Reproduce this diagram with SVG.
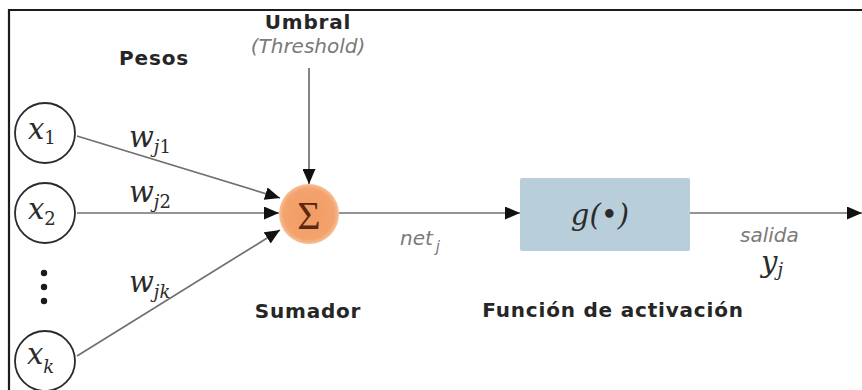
<svg xmlns="http://www.w3.org/2000/svg" width="862" height="390" viewBox="0 0 862 390">
  <style>
    .frame { fill: none; stroke: #1c1c1c; stroke-width: 2.2; }
    .input { fill: #ffffff; stroke: #2a2a2a; stroke-width: 1.8; }
    .wire { fill: none; stroke: #707070; stroke-width: 1.7; }
    .label { font-family: "DejaVu Sans", Verdana, sans-serif; font-weight: bold; font-size: 20px; fill: #262626; letter-spacing: 0.8px; }
    .note { font-family: "DejaVu Sans", Verdana, sans-serif; font-style: italic; font-size: 20px; fill: #7a7a7a; }
    .math { font-family: "DejaVu Serif", "Liberation Serif", serif; font-style: italic; font-size: 29px; fill: #2b2b2b; }
    .sub { font-size: 18px; }
    .up { font-style: normal; }
  </style>
  <defs>
    <marker id="arrow" markerUnits="userSpaceOnUse" markerWidth="15" markerHeight="13" refX="15" refY="6.5" orient="auto">
      <path d="M0,0 L15,6.5 L0,13 Z" fill="#111111"/>
    </marker>
    <radialGradient id="sumFill" cx="50%" cy="50%" r="50%">
      <stop offset="0%" stop-color="#f29a62"/>
      <stop offset="85%" stop-color="#f4a36e"/>
      <stop offset="100%" stop-color="#f7c09a"/>
    </radialGradient>
  </defs>

  <rect width="862" height="390" fill="#ffffff"/>
  <!-- frame: top and left edges -->
  <path class="frame" d="M9,390 L9,10 L862,10"/>

  <!-- headings -->
  <text class="label" x="154" y="65" text-anchor="middle">Pesos</text>
  <text class="label" x="308" y="29" text-anchor="middle">Umbral</text>
  <text class="note" x="308" y="53" text-anchor="middle">(Threshold)</text>
  <text class="label" x="308" y="318" text-anchor="middle">Sumador</text>
  <text class="label" x="613" y="317" text-anchor="middle">Función de activación</text>

  <!-- connectors -->
  <g id="connectors">
    <line class="wire" x1="77" y1="136" x2="280" y2="198" marker-end="url(#arrow)"/>
    <line class="wire" x1="77" y1="213" x2="279" y2="213" marker-end="url(#arrow)"/>
    <line class="wire" x1="77" y1="356" x2="280" y2="230" marker-end="url(#arrow)"/>
    <line class="wire" x1="309" y1="68" x2="309" y2="184" marker-end="url(#arrow)"/>
    <line class="wire" x1="339" y1="213" x2="520" y2="213" marker-end="url(#arrow)"/>
    <line class="wire" x1="690" y1="213" x2="862" y2="213" marker-end="url(#arrow)"/>
  </g>

  <!-- weight labels -->
  <text class="math" x="129" y="147">w<tspan class="sub" dy="6">j</tspan><tspan class="sub up">1</tspan></text>
  <text class="math" x="129" y="202">w<tspan class="sub" dy="6">j</tspan><tspan class="sub up">2</tspan></text>
  <text class="math" x="129" y="292">w<tspan class="sub" dy="6">jk</tspan></text>

  <!-- inputs -->
  <g id="x1">
    <circle class="input" cx="45" cy="133" r="30"/>
    <text class="math" x="28" y="139">x<tspan class="sub up" dy="5">1</tspan></text>
  </g>
  <g id="x2">
    <circle class="input" cx="45" cy="213" r="30"/>
    <text class="math" x="28" y="219">x<tspan class="sub up" dy="6">2</tspan></text>
  </g>
  <g id="dots">
    <circle cx="44" cy="273" r="3.2" fill="#1a1a1a"/>
    <circle cx="44" cy="287" r="3.2" fill="#1a1a1a"/>
    <circle cx="44" cy="301" r="3.2" fill="#1a1a1a"/>
  </g>
  <g id="xk">
    <circle class="input" cx="45" cy="361" r="30"/>
    <text class="math" x="27" y="364">x<tspan class="sub" dy="9">k</tspan></text>
  </g>

  <!-- summing junction -->
  <g id="sumador">
    <circle cx="309" cy="214" r="30" fill="url(#sumFill)"/>
    <text x="309" y="229" text-anchor="middle" font-family="'Liberation Serif', serif" font-size="40" fill="#5a2810">Σ</text>
  </g>

  <!-- activation -->
  <g id="activacion">
    <rect x="520" y="178" width="170" height="73" rx="2" fill="#b8cfdb"/>
    <text class="math" x="600" y="225" text-anchor="middle" font-size="31">g(•)</text>
  </g>

  <!-- signal labels -->
  <text class="note" x="400" y="245">net<tspan font-size="15" dy="7" dx="3">j</tspan></text>
  <text class="note" x="740" y="242" font-size="17">salida</text>
  <text class="math" x="761" y="272" font-size="28">y<tspan class="sub" dy="4">j</tspan></text>
</svg>
